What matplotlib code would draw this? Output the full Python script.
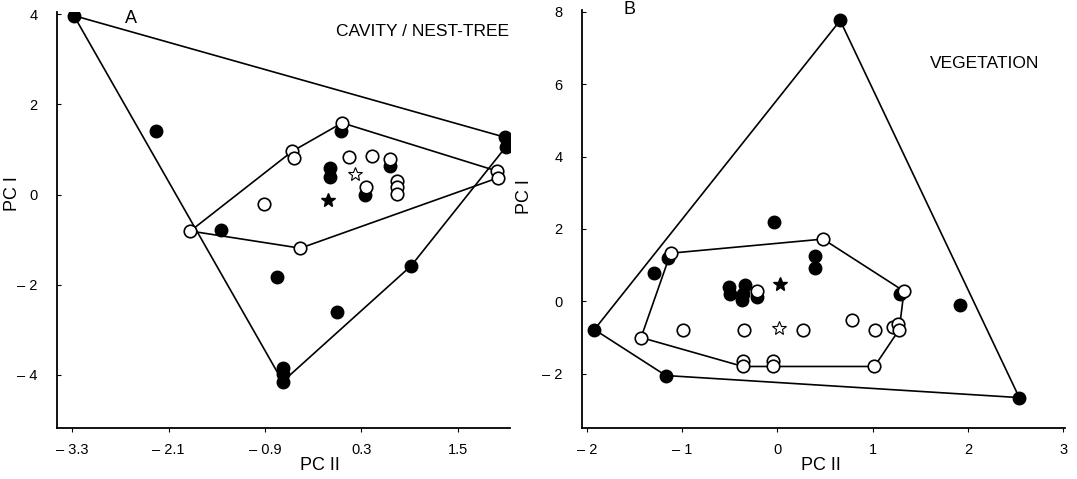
import matplotlib.pyplot as plt
import numpy as np

plt.rcParams['font.family'] = ['Liberation Sans', 'DejaVu Sans']

# Panel A - cavity / nest-tree
a_filled_x = [-3.28, -2.26, 2.09, 2.10, -0.09, -0.09, 0.05, 0.65, 0.35, -1.45, -0.75, 0.00, 0.92, -0.68, -0.68, -0.68]
a_filled_y = [3.97, 1.40, 1.27, 1.06, 0.59, 0.39, 1.40, 0.64, -0.01, -0.79, -1.82, -2.61, -1.58, -3.85, -3.98, -4.15]
a_open_x = [-1.83, -0.56, -0.54, 0.06, 0.14, 0.43, 0.65, 0.36, 0.74, 0.74, 0.74, -0.91, -0.46, 1.99, 2.00]
a_open_y = [-0.81, 0.96, 0.81, 1.59, 0.84, 0.85, 0.78, 0.17, 0.30, 0.17, 0.02, -0.22, -1.19, 0.52, 0.37]
a_filled_hull = [0, 2, 3, 12, 15, 0]
a_open_hull = [0, 1, 3, 13, 14, 12, 0]
a_star_filled = (-0.12, -0.13)
a_star_open = (0.22, 0.46)

# Panel B - vegetation
b_filled_x = [0.66, -1.92, -1.17, 2.54, -1.29, -1.15, -0.03, 0.40, 0.40, 1.29, 1.92, -0.51, -0.50, -0.34, -0.36, -0.37, -0.21]
b_filled_y = [7.76, -0.78, -2.05, -2.66, 0.77, 1.21, 2.20, 1.25, 0.91, 0.19, -0.09, 0.40, 0.21, 0.44, 0.21, 0.05, 0.12]
b_open_x = [-1.12, 0.48, 1.33, -1.43, -0.99, -0.35, 0.27, 0.78, 1.03, 1.21, 1.27, 1.28, -0.36, -0.36, -0.04, -0.04, 1.02, -0.21]
b_open_y = [1.33, 1.72, 0.28, -1.00, -0.78, -0.78, -0.80, -0.52, -0.78, -0.72, -0.62, -0.78, -1.64, -1.80, -1.64, -1.80, -1.80, 0.28]
b_filled_hull = [0, 3, 2, 1, 0]
b_open_hull = [0, 1, 2, 11, 16, 15, 13, 3, 0]
b_star_filled = (0.03, 0.49)
b_star_open = (0.02, -0.75)


def draw(ax, fx, fy, ox, oy, fh, oh, sf, so):
    fx, fy, ox, oy = map(np.array, (fx, fy, ox, oy))
    ax.plot(fx[fh], fy[fh], color='black', lw=1.2, zorder=1)
    ax.plot(ox[oh], oy[oh], color='black', lw=1.2, zorder=1)
    ax.plot(fx, fy, 'o', ms=9, mfc='black', mec='black', ls='none', zorder=3)
    ax.plot(ox, oy, 'o', ms=9, mfc='white', mec='black', mew=1.2, ls='none', zorder=3)
    ax.plot(*sf, marker='*', ms=10, mfc='black', mec='black', ls='none', zorder=4)
    ax.plot(*so, marker='*', ms=10, mfc='white', mec='black', mew=0.8, ls='none', zorder=4)
    for s in ['top', 'right']:
        ax.spines[s].set_visible(False)
    ax.spines['left'].set_linewidth(1.3)
    ax.spines['bottom'].set_linewidth(1.3)
    ax.tick_params(axis='x', direction='out', length=3, pad=8, labelsize=10.5)
    ax.tick_params(axis='y', direction='in', length=3, pad=14, labelsize=10.5)
    ax.set_xlabel('PC II', fontsize=13)
    ax.set_ylabel('PC I', fontsize=13)


def lab(v, fmt):
    s = fmt.format(abs(v))
    return '\u2013 ' + s if v < 0 else s


fig = plt.figure(figsize=(10.77, 4.79), dpi=100)
ax1 = fig.add_axes([57 / 1077, 51 / 479, 453 / 1077, 416 / 479])
ax2 = fig.add_axes([582 / 1077, 51 / 479, 483 / 1077, 418 / 479])

draw(ax1, a_filled_x, a_filled_y, a_open_x, a_open_y, a_filled_hull, a_open_hull, a_star_filled, a_star_open)
ax1.set_xlim(-3.49, 2.15)
ax1.set_ylim(-5.18, 4.05)
xt = [-3.3, -2.1, -0.9, 0.3, 1.5]
yt = [-4, -2, 0, 2, 4]
ax1.set_xticks(xt, [lab(v, '{:.1f}') for v in xt])
ax1.set_yticks(yt, [lab(v, '{:d}') for v in yt])
ax1.xaxis.set_label_coords(0.58, -0.07)
ax1.yaxis.set_label_coords(-0.079, 0.5625)
ax1.text(-2.57, 3.91, 'A', fontsize=13, ha='center', va='center')
ax1.text(2.14, 3.62, 'CAVITY / NEST-TREE', fontsize=12.5, ha='right', va='center')

draw(ax2, b_filled_x, b_filled_y, b_open_x, b_open_y, b_filled_hull, b_open_hull, b_star_filled, b_star_open)
ax2.set_xlim(-2.05, 3.02)
ax2.set_ylim(-3.5, 8.05)
xt = [-2, -1, 0, 1, 2, 3]
yt = [-2, 0, 2, 4, 6, 8]
ax2.set_xticks(xt, [lab(v, '{:d}') for v in xt])
ax2.set_yticks(yt, [lab(v, '{:d}') for v in yt])
ax2.xaxis.set_label_coords(0.495, -0.07)
ax2.yaxis.set_label_coords(-0.101, 0.553)
ax2.text(-1.55, 8.06, 'B', fontsize=13, ha='center', va='center')
ax2.text(2.18, 6.58, 'VEGETATION', fontsize=12.5, ha='center', va='center')

fig.savefig('out.png', dpi=100)
